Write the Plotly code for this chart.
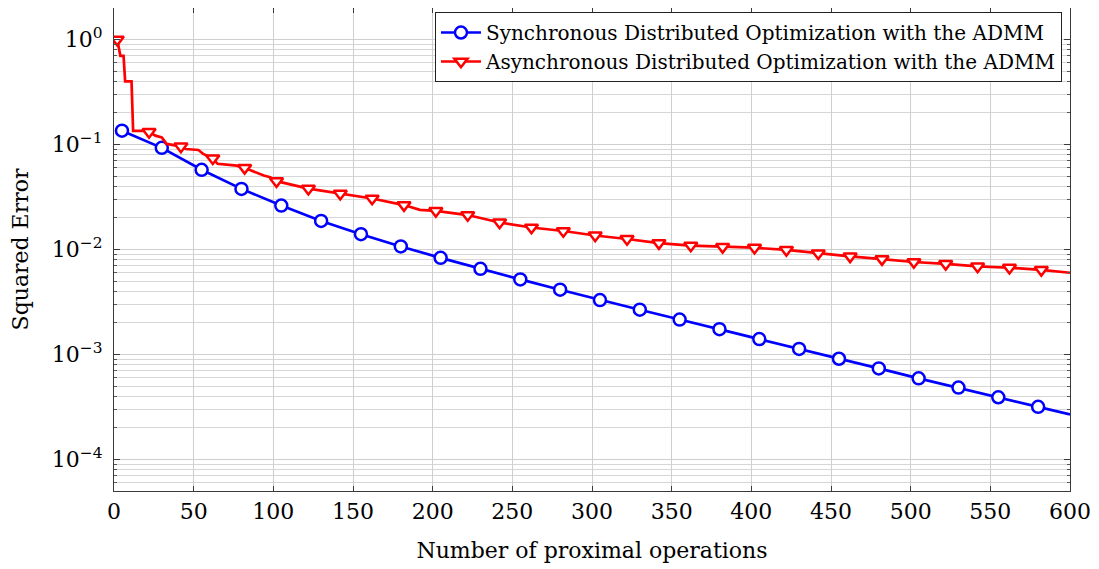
import numpy as np
import plotly.graph_objects as go

# Synchronous ADMM: squared error vs proximal operations
sync_x = [5, 30, 55, 80, 105, 130, 155, 180, 205, 230, 255, 280, 305, 330,
          355, 380, 405, 430, 455, 480, 505, 530, 555, 580, 600]
sync_y = [0.1355, 0.093, 0.0575, 0.0378, 0.0262, 0.0187, 0.0140, 0.0107,
          0.00833, 0.00655, 0.00519, 0.00414, 0.0033, 0.00267, 0.00215,
          0.00174, 0.0014, 0.00113, 0.00091, 0.000736, 0.000592, 0.000483,
          0.000391, 0.000317, 0.000268]
sync_marks = [5, 30, 55, 80, 105, 130, 155, 180, 205, 230, 255, 280, 305, 330,
              355, 380, 405, 430, 455, 480, 505, 530, 555, 580]

# Asynchronous ADMM (step-like at the start)
async_x = [2, 4, 6, 7, 11, 12, 20, 22, 26, 30, 33, 42, 45, 53, 56, 62, 65,
           77, 80, 82, 85, 94, 98, 102, 122, 142, 162, 182, 192, 202, 222,
           242, 262, 282, 302, 322, 342, 362, 382, 402, 422, 442, 462, 482,
           502, 522, 542, 562, 582, 600]
async_y = [1.0, 0.70, 0.70, 0.40, 0.40, 0.135, 0.135, 0.132, 0.1215, 0.117,
           0.1014, 0.096, 0.0906, 0.0887, 0.0814, 0.074, 0.0655, 0.063,
           0.0607, 0.060, 0.0574, 0.0507, 0.0489, 0.0448, 0.038, 0.034,
           0.0306, 0.0265, 0.0239, 0.0233, 0.0213, 0.0181, 0.0162, 0.015,
           0.0136, 0.0126, 0.0115, 0.0109, 0.0106, 0.0104, 0.0099, 0.0092,
           0.0086, 0.0081, 0.0076, 0.0073, 0.0069, 0.0067, 0.0064, 0.006]
async_marks = [2, 22, 42, 62, 82, 102, 122, 142, 162, 182, 202, 222, 242, 262,
               282, 302, 322, 342, 362, 382, 402, 422, 442, 462, 482, 502,
               522, 542, 562, 582]

x_ticks = [0, 50, 100, 150, 200, 250, 300, 350, 400, 450, 500, 550, 600]
y_ticks = [1e-4, 1e-3, 1e-2, 1e-1, 1]
y_ticktext = ['10<sup>−4</sup>', '10<sup>−3</sup>', '10<sup>−2</sup>',
              '10<sup>−1</sup>', '10<sup>0</sup>']

names = ['Synchronous Distributed Optimization with the ADMM',
         'Asynchronous Distributed Optimization with the ADMM']

FONT = 'DejaVu Serif'
BLUE = '#0000ff'
RED = '#ff0000'


def pick(xs, ys, marks):
    sel = [i for i, v in enumerate(xs) if v in marks]
    return [xs[i] for i in sel], [ys[i] for i in sel]


fig = go.Figure()

series = [
    (sync_x, sync_y, sync_marks, BLUE, 'circle', 12, names[0]),
    (async_x, async_y, async_marks, RED, 'triangle-down', 11.5, names[1]),
]

for xs, ys, marks, color, symbol, size, name in series:
    mk = dict(symbol=symbol, size=size, color='white',
              line=dict(color=color, width=2.5))
    fig.add_trace(go.Scatter(x=xs, y=ys, mode='lines', showlegend=False,
                             line=dict(color=color, width=2.7),
                             hoverinfo='skip'))
    mx, my = pick(xs, ys, marks)
    fig.add_trace(go.Scatter(x=mx, y=my, mode='markers', showlegend=False,
                             marker=mk, name=name))
    # legend entry
    fig.add_trace(go.Scatter(x=[None], y=[None], mode='lines+markers',
                             name=name, marker=mk,
                             line=dict(color=color, width=2.7)))

minor_vals = [m * 10.0 ** k for k in range(-5, 1) for m in range(2, 10)]

fig.update_xaxes(
    range=[0, 600], tickvals=x_ticks, showgrid=True, gridcolor='#cfcfcf',
    gridwidth=1, zeroline=False, showline=True, linecolor='#3a3a3a',
    linewidth=1.3, mirror='ticks', ticks='inside', ticklen=5,
    tickcolor='#3a3a3a', tickfont=dict(family=FONT, size=22, color='black'),
    title=dict(text='Number of proximal operations', standoff=20,
               font=dict(family=FONT, size=22, color='black')))

fig.update_yaxes(
    type='log', range=[np.log10(5e-5), np.log10(2)], tickmode='array',
    tickvals=y_ticks, ticktext=y_ticktext, showgrid=True, gridcolor='#cfcfcf',
    gridwidth=1, zeroline=False, showline=True, linecolor='#3a3a3a',
    linewidth=1.3, mirror='ticks', ticks='inside', ticklen=6,
    tickcolor='#3a3a3a', ticklabelstandoff=6,
    tickfont=dict(family=FONT, size=22, color='black'),
    minor=dict(tickmode='array', tickvals=minor_vals, showgrid=True,
               gridcolor='#d6d6d6', gridwidth=1, ticks='inside', ticklen=3,
               tickcolor='#555555'),
    title=dict(text='Squared Error', standoff=19,
               font=dict(family=FONT, size=22, color='black')))

# the page body adds an 8px offset, so the figure is 8px smaller
fig.update_layout(
    width=1091, height=561,
    margin=dict(l=106, r=29, t=0, b=78),
    plot_bgcolor='white', paper_bgcolor='white',
    font=dict(family=FONT, color='black'),
    legend=dict(x=0.9916, y=0.9917, xanchor='right', yanchor='top',
                bgcolor='white', bordercolor='#222222', borderwidth=1,
                font=dict(family=FONT, size=20, color='black'),
                itemwidth=40, tracegroupgap=0),
)

fig.write_html("out.html")
